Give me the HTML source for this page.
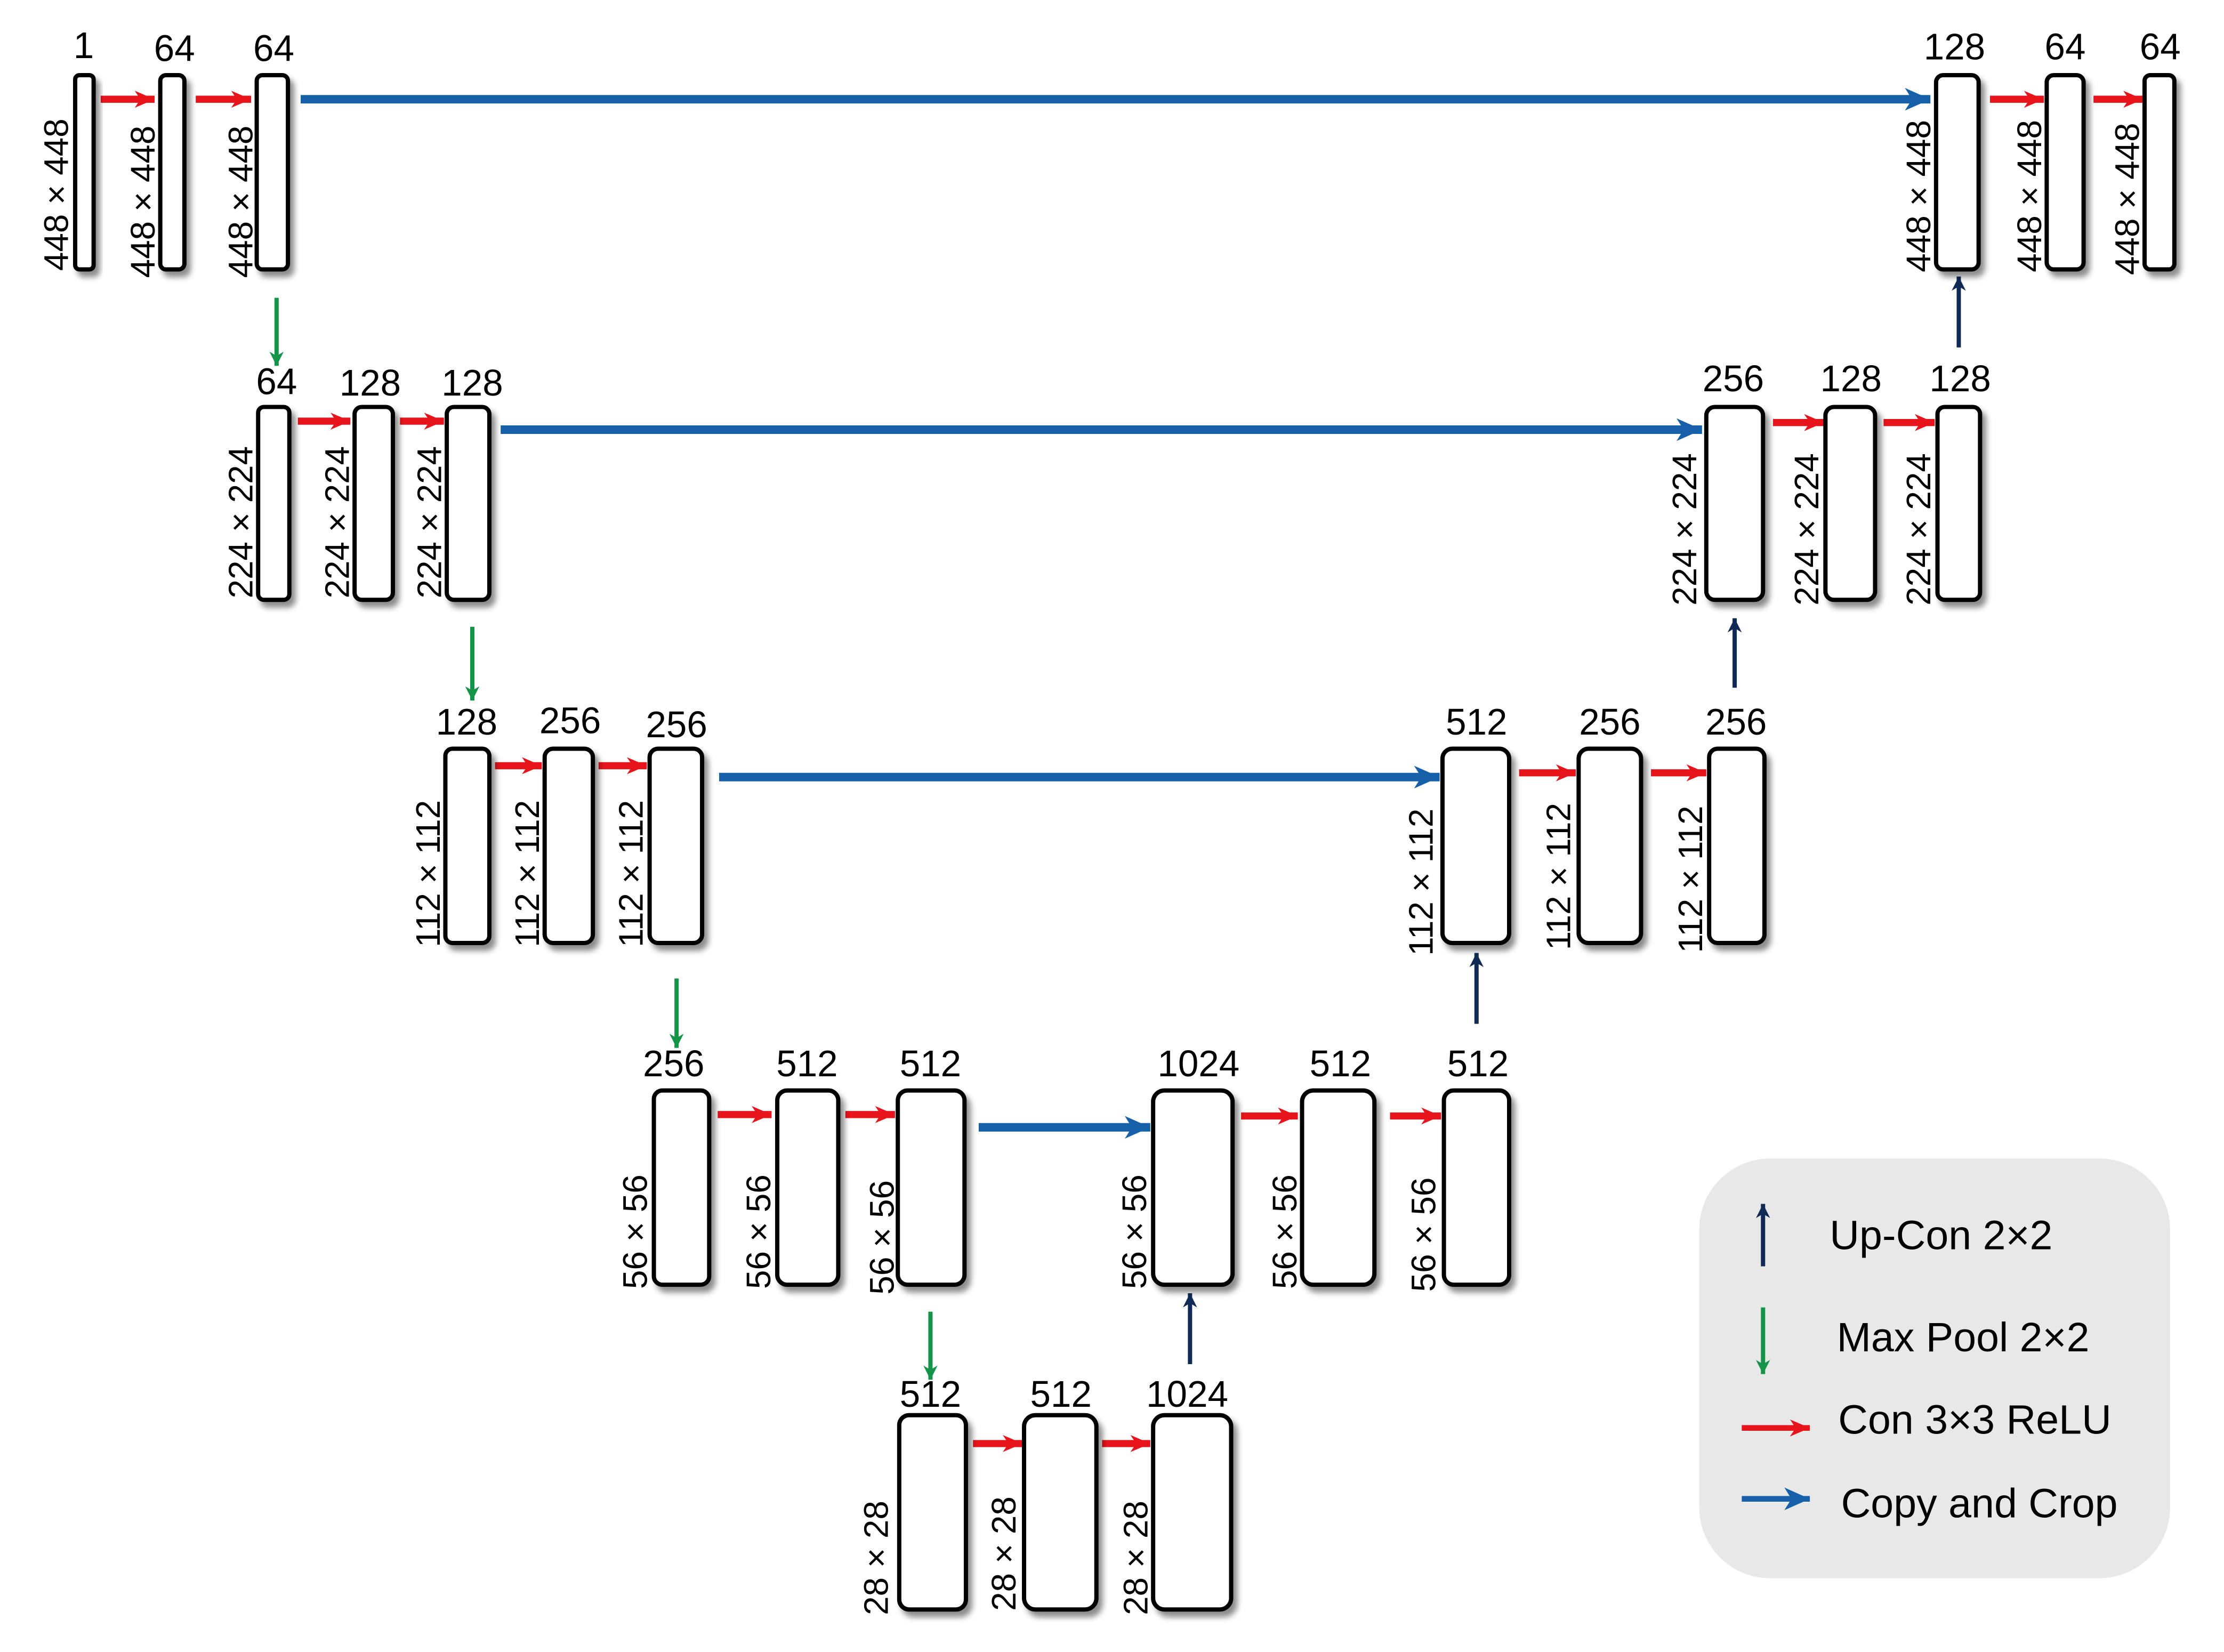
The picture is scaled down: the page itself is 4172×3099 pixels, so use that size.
<!DOCTYPE html>
<html><head><meta charset="utf-8"><style>
html,body{margin:0;padding:0;background:#fff;}
svg{display:block;}
text{font-family:"Liberation Sans",sans-serif;fill:#000;}
.n{font-size:26px;text-anchor:middle;}
.r{font-size:24px;text-anchor:start;}
.lg{font-size:29px;}
.b{fill:#fff;stroke:#000;stroke-width:3;filter:url(#sh);}
</style></head><body>
<svg width="4172" height="3099" viewBox="0 0 1568 1165" preserveAspectRatio="none" xmlns="http://www.w3.org/2000/svg">
<defs>
<filter id="sh" x="-50%" y="-10%" width="200%" height="130%"><feDropShadow dx="3" dy="4" stdDeviation="2" flood-color="#000" flood-opacity="0.45"/></filter>
<marker id="mr" markerUnits="userSpaceOnUse" markerWidth="16" markerHeight="16" refX="14" refY="8" orient="auto"><path d="M0,2 L14,8 L0,14 L4,8 Z" fill="#e8141b"/></marker>
<marker id="mb" markerUnits="userSpaceOnUse" markerWidth="20" markerHeight="20" refX="18" refY="10" orient="auto"><path d="M0,2 L18,10 L0,18 L5,10 Z" fill="#1560a8"/></marker>
<marker id="mg" markerUnits="userSpaceOnUse" markerWidth="12" markerHeight="14" refX="10" refY="6" orient="auto"><path d="M0,1 L10,6 L0,11 L3,6 Z" fill="#139447"/></marker>
<marker id="mn" markerUnits="userSpaceOnUse" markerWidth="12" markerHeight="14" refX="10" refY="6" orient="auto"><path d="M0,1 L10,6 L0,11 L3,6 Z" fill="#0f2a55"/></marker>
</defs>
<g fill="none">
<g stroke="#e8141b" stroke-width="5" marker-end="url(#mr)">
<line x1="71" y1="70" x2="109" y2="70"/><line x1="138" y1="70" x2="177" y2="70"/>
<line x1="1403" y1="70" x2="1441" y2="70"/><line x1="1476" y1="70" x2="1511" y2="70"/>
<line x1="210" y1="297" x2="247" y2="297"/><line x1="282" y1="297" x2="313" y2="297"/>
<line x1="1250" y1="298" x2="1286" y2="298"/><line x1="1328" y1="298" x2="1364" y2="298"/>
<line x1="349" y1="540" x2="382" y2="540"/><line x1="422" y1="540" x2="456" y2="540"/>
<line x1="1071" y1="545" x2="1111" y2="545"/><line x1="1164" y1="545" x2="1203" y2="545"/>
<line x1="506" y1="786" x2="544" y2="786"/><line x1="596" y1="786" x2="631" y2="786"/>
<line x1="875" y1="787" x2="915" y2="787"/><line x1="980" y1="787" x2="1016" y2="787"/>
<line x1="686" y1="1018" x2="721" y2="1018"/><line x1="777" y1="1018" x2="811" y2="1018"/>
</g>
<g stroke="#1560a8" stroke-width="6" marker-end="url(#mb)">
<line x1="212" y1="70" x2="1361" y2="70"/>
<line x1="353" y1="303" x2="1200" y2="303"/>
<line x1="507" y1="548" x2="1015" y2="548"/>
<line x1="690" y1="795" x2="811" y2="795"/>
</g>
<g stroke="#139447" stroke-width="3" marker-end="url(#mg)">
<line x1="195" y1="210" x2="195" y2="258"/>
<line x1="333" y1="442" x2="333" y2="494"/>
<line x1="477" y1="690" x2="477" y2="739"/>
<line x1="656" y1="925" x2="656" y2="973"/>
</g>
<g stroke="#0f2a55" stroke-width="3" marker-end="url(#mn)">
<line x1="1381" y1="245" x2="1381" y2="195"/>
<line x1="1223" y1="485" x2="1223" y2="436"/>
<line x1="1041" y1="722" x2="1041" y2="672"/>
<line x1="839" y1="962" x2="839" y2="912"/>
</g>
</g>
<g>
<rect class="b" x="53" y="53" width="13" height="137" rx="3"/>
<rect class="b" x="113" y="53" width="17" height="137" rx="4"/>
<rect class="b" x="181" y="53" width="22" height="137" rx="4"/>
<rect class="b" x="1365" y="53" width="30" height="137" rx="5"/>
<rect class="b" x="1443" y="53" width="26" height="137" rx="5"/>
<rect class="b" x="1512" y="53" width="21" height="137" rx="4"/>
<rect class="b" x="182" y="287" width="22" height="136" rx="4"/>
<rect class="b" x="250" y="287" width="27" height="136" rx="5"/>
<rect class="b" x="315" y="287" width="30" height="136" rx="5"/>
<rect class="b" x="1203" y="287" width="40" height="136" rx="6"/>
<rect class="b" x="1287" y="287" width="35" height="136" rx="6"/>
<rect class="b" x="1366" y="287" width="30" height="136" rx="5"/>
<rect class="b" x="314" y="528" width="31" height="137" rx="5"/>
<rect class="b" x="384" y="528" width="34" height="137" rx="6"/>
<rect class="b" x="458" y="528" width="37" height="137" rx="6"/>
<rect class="b" x="1017" y="528" width="47" height="137" rx="7"/>
<rect class="b" x="1113" y="528" width="44" height="137" rx="7"/>
<rect class="b" x="1205" y="528" width="39" height="137" rx="6"/>
<rect class="b" x="461" y="769" width="39" height="137" rx="6"/>
<rect class="b" x="548" y="769" width="43" height="137" rx="7"/>
<rect class="b" x="633" y="769" width="47" height="137" rx="7"/>
<rect class="b" x="813" y="769" width="56" height="137" rx="8"/>
<rect class="b" x="918" y="769" width="51" height="137" rx="8"/>
<rect class="b" x="1018" y="769" width="46" height="137" rx="7"/>
<rect class="b" x="634" y="998" width="47" height="137" rx="7"/>
<rect class="b" x="722" y="998" width="51" height="137" rx="8"/>
<rect class="b" x="813" y="998" width="55" height="137" rx="8"/>
</g>
<g>
<text class="n" x="59" y="41">1</text><text class="n" x="123" y="43">64</text><text class="n" x="193" y="43">64</text>
<text class="n" x="1378" y="42">128</text><text class="n" x="1456" y="42">64</text><text class="n" x="1523" y="42">64</text>
<text class="n" x="195" y="278">64</text><text class="n" x="261" y="279">128</text><text class="n" x="333" y="279">128</text>
<text class="n" x="1222" y="276">256</text><text class="n" x="1305" y="276">128</text><text class="n" x="1382" y="276">128</text>
<text class="n" x="329" y="518">128</text><text class="n" x="402" y="517">256</text><text class="n" x="477" y="520">256</text>
<text class="n" x="1041" y="518">512</text><text class="n" x="1135" y="518">256</text><text class="n" x="1224" y="518">256</text>
<text class="n" x="475" y="759">256</text><text class="n" x="569" y="759">512</text><text class="n" x="656" y="759">512</text>
<text class="n" x="845" y="759">1024</text><text class="n" x="945" y="759">512</text><text class="n" x="1042" y="759">512</text>
<text class="n" x="656" y="992">512</text><text class="n" x="748" y="992">512</text><text class="n" x="837" y="992">1024</text>
</g>
<g>
<text class="r" transform="translate(48,191) rotate(-90)">448 × 448</text>
<text class="r" transform="translate(109,196) rotate(-90)">448 × 448</text>
<text class="r" transform="translate(178,196) rotate(-90)">448 × 448</text>
<text class="r" transform="translate(1361,192) rotate(-90)">448 × 448</text>
<text class="r" transform="translate(1439,192) rotate(-90)">448 × 448</text>
<text class="r" transform="translate(1508,194) rotate(-90)">448 × 448</text>
<text class="r" transform="translate(178,422) rotate(-90)">224 × 224</text>
<text class="r" transform="translate(246,422) rotate(-90)">224 × 224</text>
<text class="r" transform="translate(311,422) rotate(-90)">224 × 224</text>
<text class="r" transform="translate(1196,427) rotate(-90)">224 × 224</text>
<text class="r" transform="translate(1282,427) rotate(-90)">224 × 224</text>
<text class="r" transform="translate(1361,427) rotate(-90)">224 × 224</text>
<text class="r" transform="translate(310,668) rotate(-90)">112 × 112</text>
<text class="r" transform="translate(380,668) rotate(-90)">112 × 112</text>
<text class="r" transform="translate(453,668) rotate(-90)">112 × 112</text>
<text class="r" transform="translate(1010,674) rotate(-90)">112 × 112</text>
<text class="r" transform="translate(1107,670) rotate(-90)">112 × 112</text>
<text class="r" transform="translate(1200,672) rotate(-90)">112 × 112</text>
<text class="r" transform="translate(456,909) rotate(-90)">56 × 56</text>
<text class="r" transform="translate(543,909) rotate(-90)">56 × 56</text>
<text class="r" transform="translate(630,913) rotate(-90)">56 × 56</text>
<text class="r" transform="translate(808,909) rotate(-90)">56 × 56</text>
<text class="r" transform="translate(914,909) rotate(-90)">56 × 56</text>
<text class="r" transform="translate(1012,911) rotate(-90)">56 × 56</text>
<text class="r" transform="translate(626,1139) rotate(-90)">28 × 28</text>
<text class="r" transform="translate(716,1136) rotate(-90)">28 × 28</text>
<text class="r" transform="translate(809,1139) rotate(-90)">28 × 28</text>
</g>
<rect x="1198" y="817" width="332" height="296" rx="50" fill="#e8e8e8"/>
<g fill="none">
<line x1="1243" y1="893" x2="1243" y2="849" stroke="#0f2a55" stroke-width="3" marker-end="url(#mn)"/>
<line x1="1243" y1="922" x2="1243" y2="969" stroke="#139447" stroke-width="3" marker-end="url(#mg)"/>
<line x1="1228" y1="1007" x2="1276" y2="1007" stroke="#e8141b" stroke-width="4" marker-end="url(#mr)"/>
<line x1="1228" y1="1057" x2="1276" y2="1057" stroke="#1560a8" stroke-width="4" marker-end="url(#mb)"/>
</g>
<text class="lg" x="1290" y="881">Up-Con 2×2</text>
<text class="lg" x="1295" y="953">Max Pool 2×2</text>
<text class="lg" x="1296" y="1011">Con 3×3 ReLU</text>
<text class="lg" x="1298" y="1070">Copy and Crop</text>
</svg>
</body></html>
